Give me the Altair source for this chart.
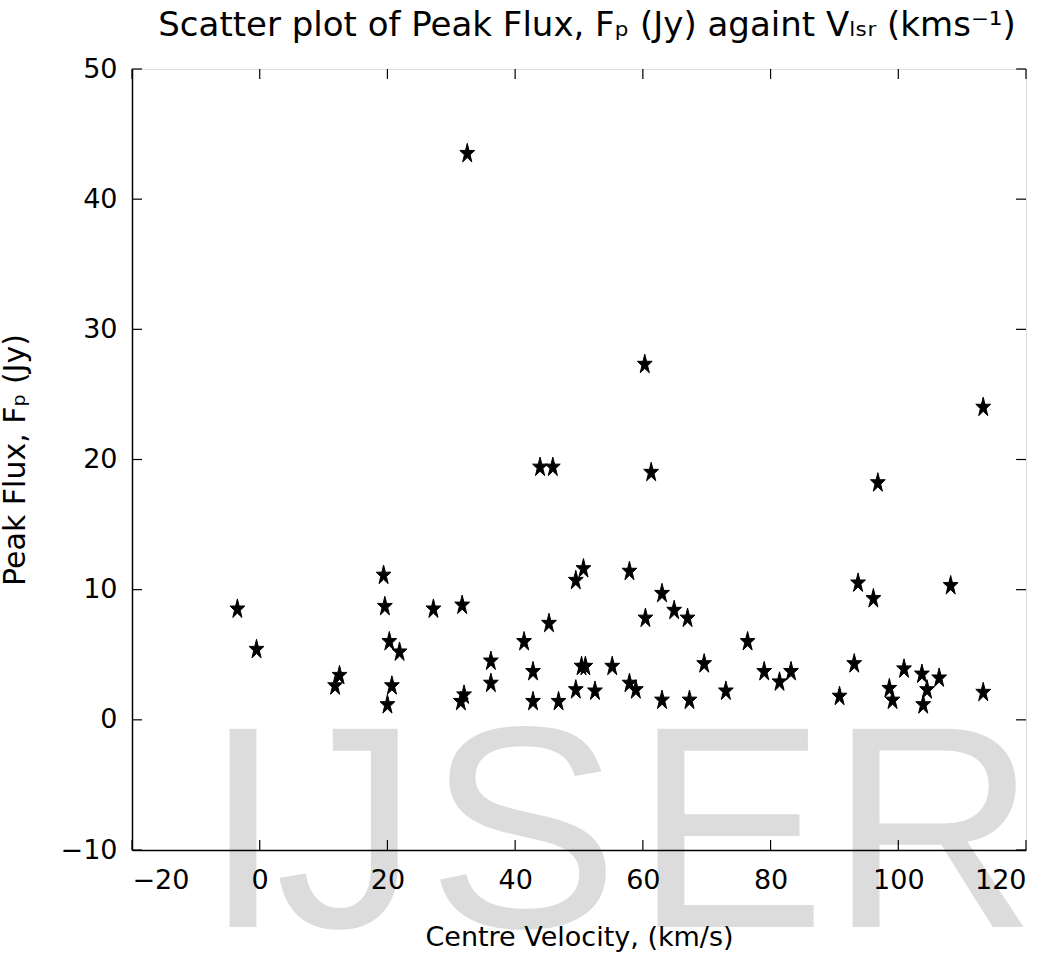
import altair as alt
import pandas as pd

# Centre velocity (km/s) and peak flux (Jy)
velocity = [-3.5, -0.5, 19.4, 19.6, 27.2, 20.3, 21.9, 12.5, 11.8, 20.7, 20.0,
            31.7, 31.5, 32.0, 36.2, 36.2, 41.4, 42.8, 42.8, 45.3, 46.8, 49.5,
            50.7, 49.5, 50.4, 51.0, 52.5, 55.2, 57.9, 57.9, 58.9, 60.4, 63.0,
            63.0, 64.9, 67.0, 67.3, 69.6, 73.0, 76.4, 79.0, 81.4, 83.2, 90.8,
            93.1, 93.7, 96.1, 98.6, 99.1, 100.9, 103.7, 104.5, 103.9, 106.4,
            108.2, 113.3, 32.5, 60.3, 43.9, 45.9, 61.3, 96.8, 113.3]
peak_flux = [8.5, 5.4, 11.1, 8.7, 8.5, 6.0, 5.2, 3.4, 2.6, 2.6, 1.15,
             8.8, 1.4, 1.9, 4.5, 2.8, 6.0, 3.7, 1.4, 7.4, 1.4, 10.7,
             11.6, 2.3, 4.1, 4.1, 2.2, 4.1, 11.4, 2.8, 2.3, 7.8, 9.7,
             1.5, 8.4, 7.8, 1.5, 4.3, 2.2, 6.0, 3.7, 2.9, 3.7, 1.8,
             4.3, 10.5, 9.3, 2.4, 1.5, 3.9, 3.5, 2.3, 1.15, 3.2,
             10.3, 2.1, 43.5, 27.3, 19.4, 19.4, 19.0, 18.2, 24.0]

x_ticks = [-20, 0, 20, 40, 60, 80, 100, 120]
y_ticks = [-10, 0, 10, 20, 30, 40, 50]
watermark_letters = ["I", "J", "S", "E", "R"]

W, H = 894, 781
TICK = 10
FONT = "DejaVu Sans"

STAR = ("M0,-1L0.171,-0.309L0.723,-0.309L0.276,0.118L0.447,0.809L0,0.382"
        "L-0.447,0.809L-0.276,0.118L-0.723,-0.309L-0.171,-0.309Z")

df = pd.DataFrame({"v": velocity, "f": peak_flux})
xt = pd.DataFrame({"t": x_ticks})
yt = pd.DataFrame({"t": y_ticks})

xscale = alt.Scale(domain=[-20, 120], nice=False, zero=False)
yscale = alt.Scale(domain=[-10, 50], nice=False, zero=False)

xaxis = alt.Axis(title="Centre Velocity, (km/s)", values=x_ticks, format="d",
                 ticks=False, grid=False, domain=True, domainColor="black",
                 domainWidth=1.5, labelFont=FONT, labelFontSize=27,
                 labelColor="black", labelPadding=17, titleFont=FONT,
                 titleFontSize=27, titleFontWeight="normal", titleColor="black",
                 titlePadding=31, zindex=1)
yaxis = alt.Axis(title="Peak Flux, Fₚ (Jy)", values=y_ticks, format="d",
                 ticks=False, grid=False, domain=True, domainColor="black",
                 domainWidth=1.5, labelFont=FONT, labelFontSize=27,
                 labelColor="black", labelPadding=15, titleFont=FONT,
                 titleFontSize=30, titleFontWeight="normal", titleColor="black",
                 titlePadding=30, zindex=1)

# watermark layers (decorative)
wm_x = [111, 215, 391, 598, 801]
wm_layers = []
for letter, px in zip(watermark_letters, wm_x):
    wm_layers.append(
        alt.Chart(pd.DataFrame({"t": [letter]})).mark_text(
            font="Liberation Sans", fontSize=288, color="#dcdcdc",
            align="center", baseline="alphabetic"
        ).encode(text="t:N", x=alt.value(px), y=alt.value(858))
    )

points = alt.Chart(df).mark_point(
    shape=STAR, size=420, filled=True, color="black", opacity=1,
    stroke="black", strokeWidth=1
).encode(
    x=alt.X("v:Q", scale=xscale, axis=xaxis),
    y=alt.Y("f:Q", scale=yscale, axis=yaxis),
)

xt_bottom = alt.Chart(xt).mark_rule(color="black", strokeWidth=1.2).encode(
    x=alt.X("t:Q", scale=xscale), y=alt.value(H), y2=alt.value(H - TICK))
xt_top = alt.Chart(xt).mark_rule(color="black", strokeWidth=1.2).encode(
    x=alt.X("t:Q", scale=xscale), y=alt.value(0), y2=alt.value(TICK))
yt_left = alt.Chart(yt).mark_rule(color="black", strokeWidth=1.2).encode(
    y=alt.Y("t:Q", scale=yscale), x=alt.value(0), x2=alt.value(TICK))
yt_right = alt.Chart(yt).mark_rule(color="black", strokeWidth=1.2).encode(
    y=alt.Y("t:Q", scale=yscale), x=alt.value(W), x2=alt.value(W - TICK))

chart = alt.layer(
    *wm_layers, xt_bottom, xt_top, yt_left, yt_right, points
).properties(
    width=W, height=H,
    title=alt.TitleParams(
        "Scatter plot of Peak Flux, Fₚ (Jy) againt Vₗₛᵣ (kms⁻¹)",
        font=FONT, fontSize=34, fontWeight="normal", color="black",
        anchor="middle", offset=12, dx=8),
    autosize=alt.AutoSizeParams(type="none"),
    padding={"left": 132, "top": 69, "right": 28, "bottom": 110},
).configure_view(
    stroke="black", strokeWidth=1.5, fill="white"
).configure(background="white")

chart.save("out.html", embed_options={"renderer": "svg", "actions": False})
